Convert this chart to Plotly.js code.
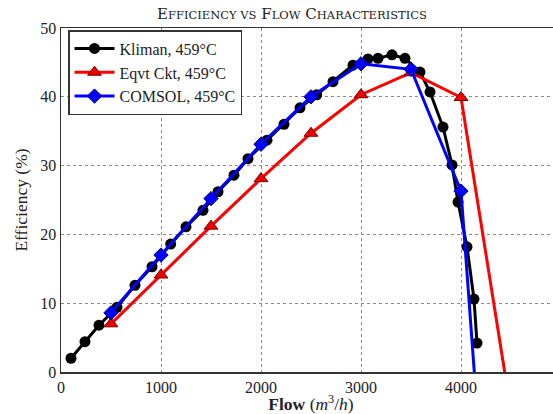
<!DOCTYPE html>
<html>
<head>
<meta charset="utf-8">
<script src="https://cdn.plot.ly/plotly-3.0.1.min.js"></script>
<style>
  html, body { margin: 0; padding: 0; overflow: hidden; background: #fff; }
  #chart { width: 570px; height: 414px; }
</style>
</head>
<body>
<div id="chart"></div>
<script>
// Kliman, 459°C (black circles)
const klimanFlow = [100, 240, 380, 560, 740, 910, 1097, 1250, 1420, 1570, 1730, 1870, 2060, 2230, 2390, 2557, 2720, 2920, 3070, 3170, 3310, 3440, 3590, 3690, 3820, 3910, 3970, 4060, 4130, 4160];
const klimanEff  = [2.0, 4.4, 6.8, 9.4, 12.6, 15.3, 18.6, 21.1, 23.5, 26.2, 28.6, 31.0, 33.7, 36.0, 38.4, 40.3, 42.2, 44.6, 45.5, 45.6, 46.1, 45.6, 43.6, 40.7, 35.6, 30.1, 24.7, 18.2, 10.6, 4.2];

// Eqvt Ckt, 459°C (red triangles)
const eqvtFlow = [500, 1000, 1500, 2000, 2500, 3000, 3500, 4000, 4470];
const eqvtEff  = [7.0, 14.1, 21.2, 28.1, 34.7, 40.3, 43.5, 39.9, -3];

// COMSOL, 459°C (blue diamonds)
const comsolFlow = [500, 1000, 1500, 2000, 2500, 3000, 3500, 4000, 4143];
const comsolEff  = [8.6, 17.0, 25.2, 33.1, 40.0, 44.8, 44.0, 26.3, -2];

const seriesNames = ["Kliman, 459°C", "Eqvt Ckt, 459°C", "COMSOL, 459°C"];
const xTicks = [0, 1000, 2000, 3000, 4000, 5000];
const yTicks = [0, 10, 20, 30, 40, 50];

const serif = "Liberation Serif, DejaVu Serif, serif";
const titleSerif = "DejaVu Serif, Liberation Serif, serif";

const traces = [
  {
    x: klimanFlow, y: klimanEff, name: seriesNames[0], type: "scatter", mode: "lines+markers",
    line: {color: "#000000", width: 3},
    marker: {symbol: "circle", size: 11, color: "#000000"}
  },
  {
    x: eqvtFlow, y: eqvtEff, name: seriesNames[1], type: "scatter", mode: "lines+markers",
    line: {color: "#ff0000", width: 3},
    marker: {symbol: "triangle-up", size: 12, color: "#ee0000", line: {color: "#770000", width: 1}}
  },
  {
    x: comsolFlow, y: comsolEff, name: seriesNames[2], type: "scatter", mode: "lines+markers",
    line: {color: "#0000ff", width: 3},
    marker: {symbol: "diamond", size: 11, color: "#0000ff", line: {color: "#000088", width: 1}}
  }
];

const sc = "font-size:11.5px";
const layout = {
  width: 570, height: 414,
  margin: {l: 61, r: 9, t: 28, b: 42},
  paper_bgcolor: "#ffffff",
  plot_bgcolor: "#ffffff",
  font: {family: serif, size: 16, color: "#222"},
  title: {
    text: "E<span style='" + sc + "'>FFICIENCY VS</span> F<span style='" + sc + "'>LOW</span> C<span style='" + sc + "'>HARACTERISTICS</span>",
    font: {family: titleSerif, size: 15, color: "#222"},
    x: 0.462, xref: "paper", xanchor: "center",
    y: 0.966, yref: "container", yanchor: "middle"
  },
  xaxis: {
    range: [0, 5000],
    tickvals: xTicks,
    ticktext: xTicks.map(String),
    showgrid: true, gridcolor: "#8a8a8a", griddash: "dot", gridwidth: 1,
    zeroline: false,
    showline: true, linecolor: "#333", linewidth: 1.5, mirror: true,
    ticks: "", tickfont: {family: serif, size: 16, color: "#222"},
    title: {text: "<b>Flow</b> (<i>m</i><sup>3</sup>/<i>h</i>)", font: {family: serif, size: 17.5, color: "#222"}, standoff: 3}
  },
  yaxis: {
    range: [0, 50],
    tickvals: yTicks,
    ticktext: yTicks.map(String),
    showgrid: true, gridcolor: "#8a8a8a", griddash: "dot", gridwidth: 1,
    zeroline: false,
    showline: true, linecolor: "#333", linewidth: 1.5, mirror: true,
    ticks: "", tickfont: {family: serif, size: 16, color: "#222"},
    title: {text: "Efficiency (%)", font: {family: serif, size: 17.5, color: "#222"}, standoff: 8}
  },
  showlegend: true,
  legend: {
    x: 0.014, y: 0.994, xanchor: "left", yanchor: "top",
    bgcolor: "#ffffff", bordercolor: "#333", borderwidth: 1.5,
    font: {family: serif, size: 16, color: "#222"},
    itemwidth: 40, tracegroupgap: 0,
    indentation: 0
  }
};

Plotly.newPlot("chart", traces, layout, {displayModeBar: false, staticPlot: true});
</script>
</body>
</html>
